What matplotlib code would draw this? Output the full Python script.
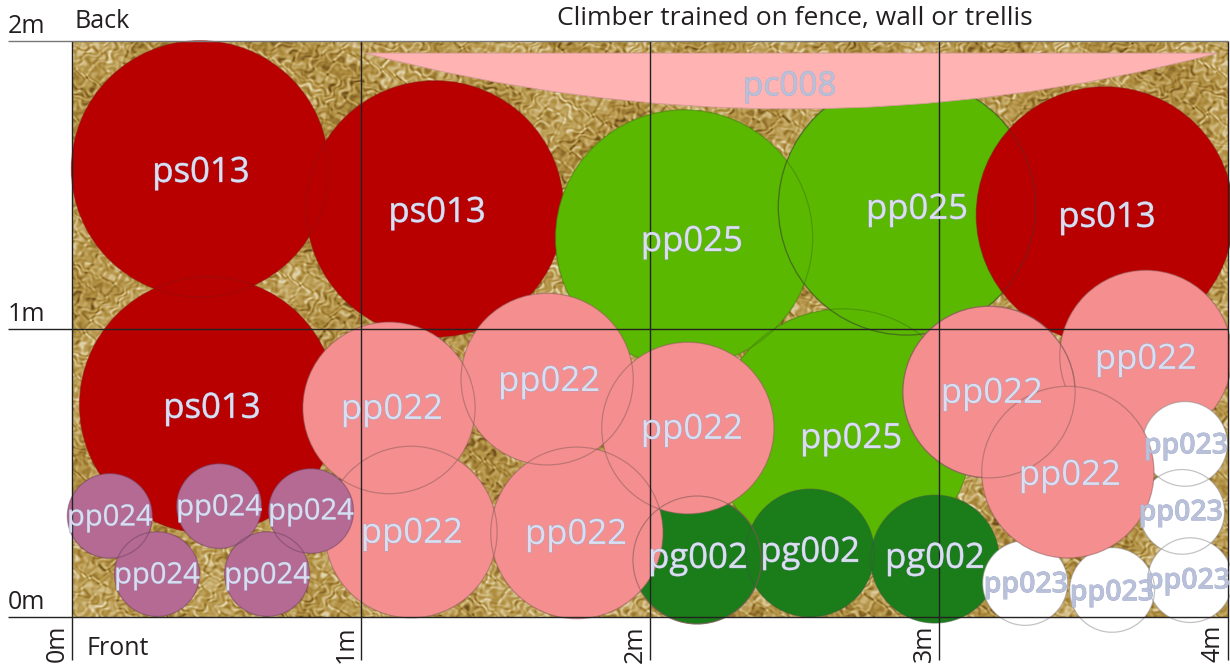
import numpy as np
import matplotlib
matplotlib.use("Agg")
import matplotlib.pyplot as plt
from matplotlib.colors import LinearSegmentedColormap
from matplotlib.patches import Circle, PathPatch
from matplotlib.path import Path
import matplotlib.patheffects as pe

plt.rcParams['font.family'] = ['Open Sans', 'DejaVu Sans']

# Planting plan, positions in metres
ps013_x = [0.443, 1.256, 0.471]
ps013_y = [1.556, 1.417, 0.736]
ps013_front_x = [3.574]
ps013_front_y = [1.396]
pp025_x = [2.118, 2.889, 2.668]
pp025_y = [1.316, 1.424, 0.625]
pp022_x = [1.097, 1.644, 2.131, 3.173, 3.716, 1.173, 1.747]
pp022_y = [0.726, 0.826, 0.656, 0.781, 0.906, 0.295, 0.292]
pp022_front_x = [3.446]
pp022_front_y = [0.503]
pg002_x = [2.163, 2.554, 2.986]
pg002_y = [0.198, 0.222, 0.201]
pp024_x = [0.131, 0.509, 0.827, 0.294, 0.675]
pp024_y = [0.351, 0.385, 0.368, 0.149, 0.149]
pp023_x = [3.851, 3.841, 3.869, 3.298, 3.599]
pp023_y = [0.601, 0.365, 0.128, 0.118, 0.094]
spread = {'ps013': 0.445, 'pp025': 0.445, 'pp022': 0.298, 'pg002': 0.222, 'pp024': 0.147, 'pp023': 0.147}
pc008_x = [1.014, 2.49, 3.965]
pc008_y = [1.958, 1.570, 1.958]

# label anchors
label_names = ['ps013'] * 4 + ['pp025'] * 3 + ['pp022'] * 8 + ['pg002'] * 3 + ['pp024'] * 5 + ['pp023'] * 5 + ['pc008']
label_x = [0.446, 1.263, 3.581, 0.484,
           2.145, 2.924, 2.696,
           1.107, 1.651, 2.145, 3.183, 3.716, 1.176, 1.744, 3.453,
           2.166, 2.554, 2.986,
           0.131, 0.509, 0.827, 0.294, 0.675,
           3.855, 3.837, 3.862, 3.301, 3.599,
           2.484]
label_y = [1.542, 1.403, 1.386, 0.723,
           1.302, 1.414, 0.618,
           0.719, 0.816, 0.650, 0.775, 0.893, 0.289, 0.285, 0.490,
           0.202, 0.223, 0.202,
           0.344, 0.379, 0.365, 0.143, 0.143,
           0.594, 0.362, 0.125, 0.112, 0.084,
           1.841]
label_size = {'ps013': 25, 'pp025': 25, 'pp022': 25, 'pg002': 25, 'pc008': 24, 'pp024': 21, 'pp023': 20.5}
grid_x = [0, 1, 2, 3, 4]
grid_y = [0, 1, 2]
x_tick_labels = ['0m', '1m', '2m', '3m', '4m']
y_tick_labels = ['0m', '1m', '2m']

fig = plt.figure(figsize=(12.3, 6.64), dpi=100)
ax = fig.add_axes([0, 0, 1, 1])

# gravel background texture (decorative)
gy, gx = np.mgrid[0:576, 0:1156].astype(float) * 0.55
wx = gx + 5 * np.sin(gy * 0.23 + 1.7 * np.sin(gx * 0.11)) + 3 * np.sin(gy * 0.71 + gx * 0.37)
wy = gy + 5 * np.sin(gx * 0.19 + 1.9 * np.sin(gy * 0.13)) + 3 * np.sin(gx * 0.67 - gy * 0.41)
t = (np.sin(wx * 0.53) * np.sin(wy * 0.47)
     + 0.7 * np.sin(wx * 0.29 + wy * 0.83)
     + 0.6 * np.sin(wx * 0.97 - wy * 0.31)
     + 0.5 * np.sin(wx * 0.083 + 2.0 * np.sin(wy * 0.061)))
gravel = LinearSegmentedColormap.from_list('gravel', ['#5f431a', '#8f6d2c', '#ad8c3e', '#bfa25c', '#d6c28e', '#e8dfc4'])
ax.imshow(t, extent=(0, 4, 0, 2), origin='lower', cmap=gravel, aspect='auto',
          interpolation='bilinear', zorder=0)
ax.set_xlim(-72 / 289, (1230 - 72) / 289)
ax.set_ylim((617 - 664) / 288, 617 / 288)
ax.axis('off')


def disks(xs, ys, r, face, edge, z, alpha=0.5):
    for x, y in zip(xs, ys):
        ax.add_patch(Circle((x, y), r, fc=face, ec='none', zorder=z))
    for x, y in zip(xs, ys):
        ax.add_patch(Circle((x, y), r, fc='none', ec=edge, lw=0.9, alpha=alpha, zorder=z + 0.5))


RED, RED_E = '#b90000', '#8a1010'
GREEN, GREEN_E = '#5ab800', '#3f7a10'
PINK, PINK_E = '#f58f8f', '#8a5a5a'
DARK, DARK_E = '#1a7d1a', '#3a5a3a'
MAUVE, MAUVE_E = '#b56a93', '#6e4060'
WHITE, WHITE_E = '#ffffff', '#888888'

disks(ps013_x, ps013_y, spread['ps013'], RED, RED_E, 1)
disks(pp025_x, pp025_y, spread['pp025'], GREEN, GREEN_E, 2)
disks(ps013_front_x, ps013_front_y, spread['ps013'], RED, RED_E, 3)
for x, y in zip(pp025_x[1:2], pp025_y[1:2]):
    ax.add_patch(Circle((x, y), spread['pp025'], fc='none', ec='#3a3a3a', lw=0.9, alpha=0.4, zorder=3.6))
disks(pg002_x, pg002_y, spread['pg002'], DARK, DARK_E, 4)
disks(pp022_x, pp022_y, spread['pp022'], PINK, PINK_E, 5)
for x, y in zip(pg002_x[:1], pg002_y[:1]):
    ax.add_patch(Circle((x, y), spread['pg002'], fc='none', ec=PINK_E, lw=0.9, alpha=0.6, zorder=5.6))
disks(pp024_x, pp024_y, spread['pp024'], MAUVE, MAUVE_E, 6)
disks(pp023_x, pp023_y, spread['pp023'], WHITE, WHITE_E, 7)
disks(pp022_front_x, pp022_front_y, spread['pp022'], PINK, PINK_E, 8)
for x, y in zip(pp022_x[3:4], pp022_y[3:4]):
    ax.add_patch(Circle((x, y), spread['pp022'], fc='none', ec=PINK_E, lw=0.9, alpha=0.5, zorder=8.6))

# climber crescent
verts = list(zip(pc008_x, pc008_y)) + [(pc008_x[0], pc008_y[0])]
codes = [Path.MOVETO, Path.CURVE3, Path.CURVE3, Path.CLOSEPOLY]
ax.add_patch(PathPatch(Path(verts, codes), fc='#ffb3b3', ec='#d89a9a', lw=0.6, zorder=9))

# grid
for gxv in grid_x:
    ax.plot([gxv, gxv], [-0.149, 2], color='#222222', lw=1.0, zorder=10, solid_capstyle='butt')
for gyv in grid_y:
    ax.plot([-0.221, 4], [gyv, gyv], color='#777777' if gyv == 2 else '#222222', lw=1.0, zorder=10, solid_capstyle='butt')

# plant labels
for name, x, y in zip(label_names, label_x, label_y):
    on_pale = name in ('pp023', 'pc008')
    face = '#b9c0da' if on_pale else '#dadef0'
    edge = '#a3abc8' if on_pale else '#9aa2c6'
    weight = 'semibold' if name == 'pp023' else 'normal'
    ax.text(x, y, name, ha='center', va='center', fontsize=label_size[name], color=face,
            fontweight=weight, zorder=11,
            path_effects=[pe.withStroke(linewidth=0.5, foreground=edge)])

TXT = '#231f20'
for gxv, lab in zip(grid_x, x_tick_labels):
    ax.text(gxv - 0.052, -0.028, lab, rotation=90, ha='center', va='top', fontsize=18, color=TXT, zorder=12)
for gyv, lab in zip(grid_y, y_tick_labels):
    ax.text(-0.221, gyv + 0.006, lab, ha='left', va='bottom', fontsize=18, color=TXT, zorder=12)
ax.text(0.01, 2.025, 'Back', ha='left', va='bottom', fontsize=18, color=TXT, zorder=12)
ax.text(0.05, -0.067, 'Front', ha='left', va='top', fontsize=18, color=TXT, zorder=12)
ax.text(2.5, 2.033, 'Climber trained on fence, wall or trellis', ha='center', va='bottom',
        fontsize=19, color=TXT, zorder=12)

fig.savefig('out.png', dpi=100)
